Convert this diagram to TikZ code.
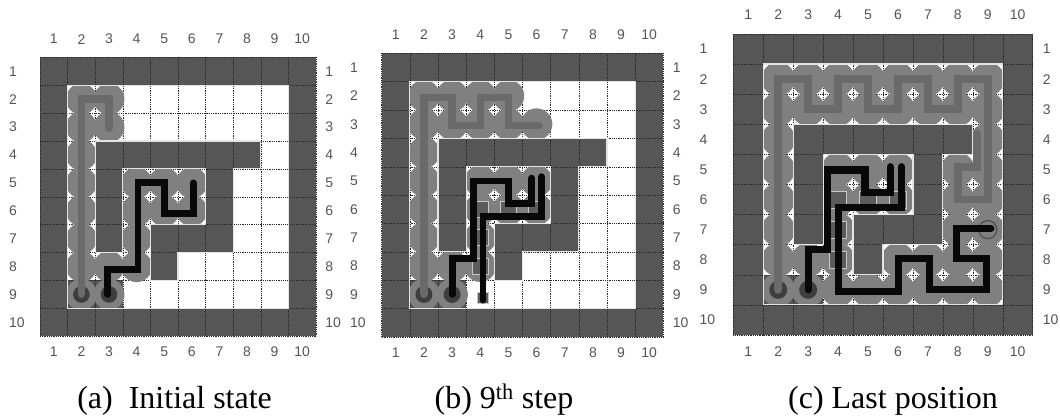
\documentclass[tikz,border=0pt]{standalone}
\usepackage{fontspec}
\newfontfamily\labfont{Liberation Sans}
\newfontfamily\capfont{Liberation Serif}
\definecolor{wallc}{RGB}{86,86,86}
\definecolor{circc}{RGB}{128,128,128}
\definecolor{pathg}{RGB}{106,106,106}
\definecolor{gridc}{RGB}{40,40,40}
\definecolor{outc}{RGB}{228,228,228}
\definecolor{labc}{RGB}{85,85,85}
\definecolor{startin}{RGB}{62,62,62}
\definecolor{sqc}{RGB}{92,92,92}
\definecolor{sqline}{RGB}{200,200,200}
\definecolor{blk}{RGB}{8,8,8}
\tikzset{
  islandp/.style={insert path={(2,3) -- (8,3) -- (8,4) -- (7,4) -- (7,7) -- (5,7) -- (5,8) -- (4,8) -- (4,6) -- (6,6) -- (6,4) -- (3,4) -- (3,7) -- (2,7) -- cycle}},
  gridl/.style={draw=gridc, line width=0.5pt, dash pattern=on 0.7pt off 1.1pt},
  outl/.style={draw=outc, line width=1.2pt},
  lab/.style={font=\labfont\fontsize{14}{14}\selectfont, text=labc, inner sep=0pt},
  capt/.style={font=\capfont\fontsize{32}{32}\selectfont, inner sep=0pt, anchor=base},
  graypth/.style={draw=pathg, line width=#1, line cap=round, line join=miter},
  blackpth/.style={draw=blk, line width=#1, line cap=round, line join=miter},
  bot/.style={fill=circc},
  visq/.style={fill=sqc, draw=sqline, line width=0.6pt},
  ringm/.style={fill=circc, draw=wallc, line width=1.5pt},
}
\newcommand{\mazebase}[1]{%
  \fill[wallc] (0,0) rectangle (10,10);
  \fill[white, even odd rule] (1,1) rectangle (9,9) [islandp];
  \fill[wallc] (1,8) rectangle (3,9);
  \foreach \k in {0,...,10}{\draw[gridl] (\k,0) -- (\k,10); \draw[gridl] (0,\k) -- (10,\k);}
  \foreach \k in {1,...,10}{%
    \node[lab, name=#1t\k] at (\k-0.5,-0.65) {\k};
    \node[lab, name=#1b\k] at (\k-0.5,10.55) {\k};
    \node[lab, anchor=west, name=#1l\k] at (-1.13,\k-0.5) {\k};
    \node[lab, anchor=west, name=#1r\k] at (10.33,\k-0.5) {\k};
  }%
}
\newcommand{\mazeclip}{\clip (1,1) rectangle (9,9) (2,3) -- (8,3) -- (8,4) -- (7,4) -- (7,7) -- (5,7) -- (5,8) -- (4,8) -- (4,6) -- (6,6) -- (6,4) -- (3,4) -- (3,7) -- (2,7) -- cycle;}
\newcommand{\crad}{0.56}
\begin{document}
\begin{tikzpicture}[x=1pt, y=-1pt]
\fill[white] (0,0) rectangle (1060,419);
\useasboundingbox (0,0) rectangle (1060,419);

% ---------- (a) ----------
\begin{scope}[shift={(40,57.3)}, x=27.6pt, y=-27.9pt]
  \mazebase{a}
  \begin{scope}[even odd rule]
    \mazeclip
    \foreach \r/\c in {2/2,2/3,3/2,3/3,4/2,5/2,6/2,7/2,8/2,9/2,9/3,8/3,8/4,7/4,6/4,5/4,5/5,6/5,6/6,5/6}
      \fill[bot] (\c-0.5,\r-0.5) circle[radius=\crad];
    \fill[startin] (1.5,8.5) circle[radius=0.3] (2.5,8.5) circle[radius=0.3];
  \end{scope}
  \draw[outl] (1,1) rectangle (9,9) [islandp];
  \draw[graypth=7.3pt] (1.5,8.5) -- (1.5,1.5) -- (2.5,1.5) -- (2.5,2.55);
  \draw[blackpth=6.8pt] (2.45,8.5) -- (2.45,7.6) -- (3.55,7.6) -- (3.55,4.5) -- (4.5,4.5) -- (4.5,5.6) -- (5.55,5.6) -- (5.55,4.5);
\end{scope}

% ---------- (b) ----------
\begin{scope}[shift={(381.7,53.3)}, x=28.16pt, y=-28.37pt]
  \mazebase{b}
  \begin{scope}[even odd rule]
    \mazeclip
    \foreach \r/\c in {2/2,2/3,2/4,2/5,3/2,3/3,3/4,3/5,3/6,4/2,5/2,6/2,7/2,8/2,9/2,9/3,8/3,8/4,7/4,6/4,5/4,5/5,5/6,6/5,6/6}
      \fill[bot] (\c-0.5,\r-0.5) circle[radius=\crad];
    \fill[startin] (1.5,8.5) circle[radius=0.3] (2.5,8.5) circle[radius=0.3];
    \foreach \r/\c in {6/4,6/5,6/6,7/4,8/4}
      \filldraw[visq] (\c-0.78,\r-0.78) rectangle (\c-0.22,\r-0.22);
  \end{scope}
  \draw[outl] (1,1) rectangle (9,9) [islandp];
  \filldraw[visq] (3.38,8.41) rectangle (3.77,8.8);
  \draw[graypth=7.3pt] (1.5,8.5) -- (1.5,1.55) -- (2.5,1.55) -- (2.5,2.55) -- (3.5,2.55) -- (3.5,1.55) -- (4.5,1.55) -- (4.5,2.55) -- (5.6,2.55);
  \draw[blackpth=6.8pt] (2.5,8.5) -- (2.5,7.24) -- (3.25,7.24) -- (3.25,4.5) -- (4.5,4.5) -- (4.5,5.3) -- (5.33,5.3) -- (5.33,4.4);
  \draw[blackpth=6.8pt] (3.6,8.7) -- (3.6,5.76) -- (5.68,5.76) -- (5.68,4.35);
\end{scope}

% ---------- (c) ----------
\begin{scope}[shift={(733.3,34)}, x=29.94pt, y=-30.1pt]
  \mazebase{c}
  \begin{scope}[even odd rule]
    \mazeclip
    \foreach \r in {2,3}{\foreach \c in {2,...,9}{\fill[bot] (\c-0.5,\r-0.5) circle[radius=\crad];}}
    \foreach \r/\c in {4/2,5/2,6/2,7/2,8/2,9/2,4/9,5/8,5/9,6/8,6/9,7/8,7/9,8/8,8/9,9/3,9/4,9/5,9/6,9/7,9/8,9/9,8/3,8/4,8/6,8/7,7/4,6/4,6/5,6/6,5/4,5/5,5/6}
      \fill[bot] (\c-0.5,\r-0.5) circle[radius=\crad];
    \fill[startin] (1.5,8.5) circle[radius=0.3] (2.5,8.5) circle[radius=0.3];
    \foreach \r/\c in {6/4,6/5,6/6,7/4,8/4}
      \filldraw[visq] (\c-0.78,\r-0.78) rectangle (\c-0.22,\r-0.22);
  \end{scope}
  \draw[outl] (1,1) rectangle (9,9) [islandp];
  \filldraw[ringm] (8.5,6.5) circle[radius=0.3];
  \draw[graypth=7.8pt] (1.5,8.5) -- (1.5,1.5) -- (2.5,1.5) -- (2.5,2.5) -- (3.5,2.5) -- (3.5,1.5) -- (4.5,1.5) -- (4.5,2.5) -- (5.5,2.5) -- (5.5,1.5) -- (6.5,1.5) -- (6.5,2.5) -- (7.5,2.5) -- (7.5,1.5) -- (8.5,1.5) -- (8.5,5.5) -- (7.5,5.5) -- (7.5,4.42) -- (8.13,4.42) -- (8.13,3.3);
  \draw[blackpth=7.3pt] (2.5,8.5) -- (2.5,7.15) -- (3.14,7.15) -- (3.14,4.52) -- (4.4,4.52) -- (4.4,5.26) -- (5.24,5.26) -- (5.24,4.41);
  \draw[blackpth=7.3pt] (5.62,4.41) -- (5.62,5.77) -- (3.51,5.77) -- (3.51,8.56) -- (5.51,8.56) -- (5.51,7.45) -- (6.55,7.45) -- (6.55,8.5) -- (8.46,8.5) -- (8.46,7.45) -- (7.46,7.45) -- (7.46,6.46) -- (8.6,6.46);
\end{scope}

% ---------- captions ----------
\node[capt, name=capa] at (174.6,408.3) {(a)\ \ Initial state};
\node[capt, name=capb] at (504,408.3) {(b) 9\textsuperscript{th} step};
\node[capt, name=capc] at (893,408.3) {(c) Last position};
\end{tikzpicture}
\end{document}
